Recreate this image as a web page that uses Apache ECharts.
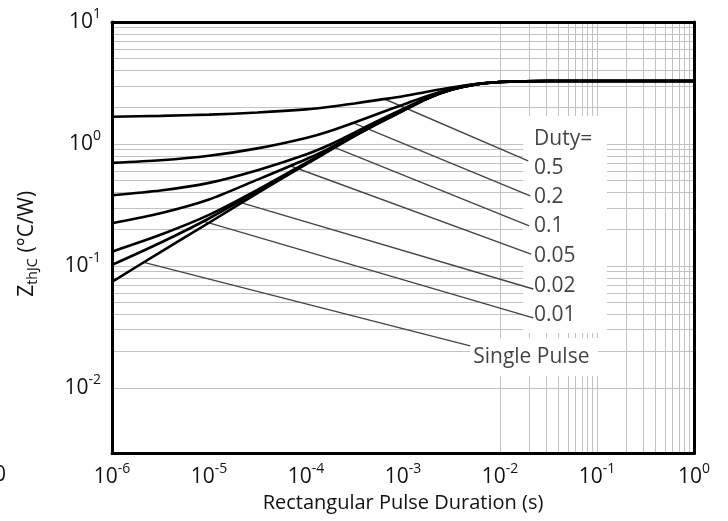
<!DOCTYPE html>
<html>
<head>
<meta charset="utf-8">
<script src="https://cdn.jsdelivr.net/npm/echarts@6/dist/echarts.min.js"></script>
<style>
html,body{margin:0;padding:0;background:#fff;}
#chart{width:728px;height:521px;}
</style>
</head>
<body>
<div id="chart"></div>
<script>
// Pulse duration (s)
const tVals = [1e-6, 3.16e-6, 1e-5, 3.16e-5, 1e-4, 1.78e-4, 3.16e-4, 5.62e-4, 1e-3, 1.78e-3, 3.16e-3, 5.62e-3, 1e-2, 1.78e-2, 3.16e-2, 0.1, 0.316, 1];
// Zth(j-c) in degC/W per duty cycle
const zD5     = [1.67, 1.70, 1.74, 1.81, 1.92, 2.02, 2.15, 2.30, 2.46, 2.68, 2.90, 3.10, 3.22, 3.27, 3.28, 3.28, 3.28, 3.28];
const zD2     = [0.70, 0.735, 0.80, 0.92, 1.12, 1.28, 1.50, 1.78, 2.10, 2.48, 2.84, 3.10, 3.22, 3.27, 3.28, 3.28, 3.28, 3.28];
const zD1     = [0.38, 0.415, 0.48, 0.61, 0.82, 0.99, 1.24, 1.56, 1.94, 2.40, 2.80, 3.08, 3.22, 3.27, 3.28, 3.28, 3.28, 3.28];
const zD05    = [0.224, 0.27, 0.35, 0.51, 0.75, 0.93, 1.20, 1.51, 1.90, 2.37, 2.79, 3.08, 3.22, 3.27, 3.28, 3.28, 3.28, 3.28];
const zD02    = [0.131, 0.18, 0.262, 0.42, 0.70, 0.905, 1.17, 1.49, 1.88, 2.36, 2.79, 3.08, 3.22, 3.27, 3.28, 3.28, 3.28, 3.28];
const zD01    = [0.102, 0.155, 0.245, 0.41, 0.69, 0.898, 1.165, 1.485, 1.875, 2.355, 2.785, 3.075, 3.22, 3.27, 3.28, 3.28, 3.28, 3.28];
const zSingle = [0.074, 0.130, 0.226, 0.395, 0.68, 0.89, 1.16, 1.48, 1.87, 2.35, 2.78, 3.07, 3.22, 3.27, 3.28, 3.28, 3.28, 3.28];
const curveNames = ['0.5', '0.2', '0.1', '0.05', '0.02', '0.01', 'Single Pulse'];
const curveValues = [zD5, zD2, zD1, zD05, zD02, zD01, zSingle];

// Leader lines (callouts) from curve to label
const leaderStartT = [6.28e-4, 3.07e-4, 1.72e-4, 6.95e-5, 1.89e-5, 8.85e-6, 2.13e-6];
const leaderStartZ = [2.36, 1.49, 0.98, 0.66, 0.34, 0.232, 0.107];
const leaderEndT   = [0.0195, 0.0205, 0.020, 0.0209, 0.022, 0.022, 0.00493];
const leaderEndZ   = [0.726, 0.375, 0.213, 0.125, 0.0647, 0.0375, 0.0221];

// Callout labels
const labelTexts = ['Duty=', '0.5', '0.2', '0.1', '0.05', '0.02', '0.01', 'Single Pulse'];
const labelT = [0.0209, 0.0209, 0.0209, 0.0209, 0.0209, 0.0209, 0.0209, 0.00493];
const labelZ = [1.10, 0.641, 0.368, 0.211, 0.120, 0.0679, 0.0393, 0.01795];

// Axis ranges
const xMin = 1e-6, xMax = 1;
const yMin = 0.0029, yMax = 10;

const FONT = 'Open Sans';
const TXT = '#111';

// Log grid lines (1..9 per decade)
const xGrid = [];
for (let e = -6; e <= -1; e++) for (let m = 1; m <= 9; m++) xGrid.push(m * Math.pow(10, e));
xGrid.push(1);
const yGrid = [];
for (let e = -3; e <= 0; e++) for (let m = 1; m <= 9; m++) { const v = m * Math.pow(10, e); if (v >= yMin) yGrid.push(v); }
yGrid.push(10);

function powLabel(v) {
  const lg = Math.log10(v);
  const e = Math.round(lg);
  if (Math.abs(lg - e) > 1e-6) return '';
  return '{b|10}{s|' + e + '}';
}
const richPow = {
  b: {fontFamily: FONT, fontSize: 21, color: TXT},
  s: {fontFamily: FONT, fontSize: 14, color: TXT, padding: [0, 0, 16, 0]}
};

const series = [];
series.push({
  type: 'line', data: [], silent: true, z: 1, animation: false,
  markLine: {
    z: 1, silent: true, animation: false, symbol: ['none', 'none'], label: {show: false},
    lineStyle: {color: '#c2c2c2', width: 1, type: 'solid'},
    emphasis: {disabled: true},
    data: xGrid.map(v => ({xAxis: v})).concat(yGrid.map(v => ({yAxis: v})))
  }
});
series.push({
  type: 'line', data: [], silent: true, z: 2, animation: false,
  markArea: {
    z: 2, silent: true, animation: false, itemStyle: {color: '#ffffff', opacity: 1},
    emphasis: {disabled: true},
    data: [
      [{coord: [0.01733, 1.696]}, {coord: [0.1268, 0.02825]}],
      [{coord: [0.00493, 0.0257]}, {coord: [0.1023, 0.01253]}]
    ]
  }
});
for (let i = 0; i < leaderStartT.length; i++) {
  series.push({
    type: 'line', z: 3, silent: true, symbol: 'none', animation: false,
    lineStyle: {color: '#454545', width: 1.4},
    data: [[leaderStartT[i], leaderStartZ[i]], [leaderEndT[i], leaderEndZ[i]]]
  });
}
for (let i = 0; i < curveValues.length; i++) {
  series.push({
    name: curveNames[i], type: 'line', z: 4, silent: true, symbol: 'none', animation: false,
    smooth: 0.25,
    lineStyle: {color: '#000', width: 2.6},
    data: tVals.map((t, k) => [t, curveValues[i][k]])
  });
}
series.push({
  type: 'scatter', z: 5, silent: true, symbolSize: 0, animation: false,
  label: {show: true, position: 'right', distance: 3, formatter: '{b}', fontFamily: FONT, fontSize: 21, color: TXT},
  data: labelTexts.map((n, i) => ({name: n, value: [labelT[i], labelZ[i]]}))
});

const chart = echarts.init(document.getElementById('chart'), null, {renderer: 'canvas'});
chart.setOption({
  animation: false,
  backgroundColor: '#fff',
  grid: {left: 112, top: 22, right: 34, bottom: 67.5, containLabel: false},
  xAxis: [{
    type: 'log', min: xMin, max: xMax, position: 'bottom', z: 10,
    axisLine: {show: true, onZero: false, lineStyle: {color: '#000', width: 3}},
    axisTick: {show: false}, splitLine: {show: false},
    axisLabel: {formatter: powLabel, rich: richPow, margin: 9},
    name: 'Rectangular Pulse Duration (s)', nameLocation: 'middle', nameGap: 37,
    nameTextStyle: {fontFamily: FONT, fontSize: 20, color: TXT}
  }, {
    type: 'log', min: xMin, max: xMax, position: 'top', z: 10,
    axisLine: {show: true, onZero: false, lineStyle: {color: '#000', width: 3}},
    axisTick: {show: false}, splitLine: {show: false}, axisLabel: {show: false}
  }],
  yAxis: [{
    type: 'log', min: yMin, max: yMax, position: 'left', z: 10,
    axisLine: {show: true, onZero: false, lineStyle: {color: '#000', width: 3}},
    axisTick: {show: false}, splitLine: {show: false},
    axisLabel: {formatter: powLabel, rich: richPow, margin: 11},
    name: '{m|Z}{sub|thJC}{m|(°C/W)}', nameLocation: 'middle', nameRotate: 90, nameGap: 72,
    nameTextStyle: {
      padding: [0, 12, 0, 0],
      rich: {
        m: {fontFamily: FONT, fontSize: 21, color: TXT},
        sub: {fontFamily: FONT, fontSize: 14, color: TXT, padding: [12, 6, 0, 0]}
      }
    }
  }, {
    type: 'log', min: yMin, max: yMax, position: 'right', z: 10,
    axisLine: {show: true, onZero: false, lineStyle: {color: '#000', width: 3}},
    axisTick: {show: false}, splitLine: {show: false}, axisLabel: {show: false}
  }],
  graphic: [{type: 'text', x: -6, y: 465, style: {text: '0', fontFamily: FONT, fontSize: 21, fill: TXT}}],
  series: series
});
</script>
</body>
</html>
